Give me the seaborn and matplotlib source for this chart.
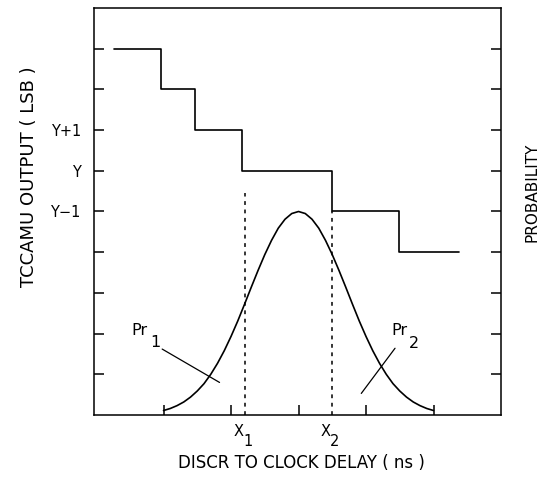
import matplotlib
matplotlib.use("Agg")
import matplotlib.pyplot as plt
import numpy as np
import pandas as pd
import seaborn as sns

# ---------------- data ----------------
# staircase: TCCAMU output vs discriminator-to-clock delay
step_edges = [0.27, 0.97, 1.47, 2.17, 3.49, 4.49, 5.38]
step_levels = [9, 8, 7, 6, 5, 4]

# probability curve (read point by point)
prob_x = [1.0, 1.1, 1.2, 1.3, 1.4, 1.5, 1.6, 1.7, 1.8, 1.9, 2.0,
          2.1, 2.2, 2.3, 2.4, 2.5, 2.6, 2.7, 2.8, 2.9, 3.0,
          3.1, 3.2, 3.3, 3.4, 3.5, 3.6, 3.7, 3.8, 3.9, 4.0,
          4.1, 4.2, 4.3, 4.4, 4.5, 4.6, 4.7, 4.8, 4.9, 5.0]
prob_y = [0.11, 0.16, 0.23, 0.32, 0.44, 0.59, 0.77, 1.00, 1.27, 1.58, 1.93,
          2.31, 2.72, 3.14, 3.55, 3.94, 4.29, 4.59, 4.81, 4.95, 5.00,
          4.95, 4.81, 4.59, 4.29, 3.94, 3.55, 3.14, 2.72, 2.31, 1.93,
          1.58, 1.27, 1.00, 0.77, 0.59, 0.44, 0.32, 0.23, 0.16, 0.11]

# threshold delays X1, X2 (dotted markers) and where they start
x_marks = [2.2, 3.49]
x_mark_tops = [5.45, 5.0]
x_mark_names = ["X", "X"]
x_mark_subs = ["1", "2"]

# y tick labels
ytick_pos = [1, 2, 3, 4, 5, 6, 7, 8, 9]
ytick_lab = ["", "", "", "", "Y\u22121", "Y", "Y+1", "", ""]
xtick_pos = [1, 2, 3, 4, 5]

# annotation leader lines
pr1_line_x = [0.98, 1.83]
pr1_line_y = [1.62, 0.80]
pr2_line_x = [4.43, 3.93]
pr2_line_y = [1.64, 0.53]

xlabel = "DISCR TO CLOCK DELAY ( ns )"
ylabel = "TCCAMU OUTPUT ( LSB )"
rlabel = "PROBABILITY"

# ---------------- style ----------------
sns.set_theme(style="white", rc={
    "axes.edgecolor": "black",
    "axes.linewidth": 1.1,
    "xtick.color": "black",
    "ytick.color": "black",
    "text.color": "black",
    "axes.labelcolor": "black",
})
plt.rcParams["font.family"] = ["DejaVu Sans"]

fig = plt.figure(figsize=(5.41, 4.78), dpi=100)
L, R, T, B = 94, 501, 8, 415
W, H = 541, 478
ax = fig.add_axes([L / W, 1 - B / H, (R - L) / W, (B - T) / H])

lw = 1.2
# staircase
step_df = pd.DataFrame({"x": step_edges, "y": step_levels + [step_levels[-1]]})
sns.lineplot(data=step_df, x="x", y="y", drawstyle="steps-post", color="black",
             lw=lw, ax=ax, sort=False, estimator=None)

# probability curve
prob_df = pd.DataFrame({"x": prob_x, "y": prob_y})
sns.lineplot(data=prob_df, x="x", y="y", color="black", lw=lw, ax=ax,
             sort=False, estimator=None)

# dotted X1, X2 markers
for xm, top in zip(x_marks, x_mark_tops):
    ax.plot([xm, xm], [0, top], color="black", lw=1.1, ls=(0, (2.5, 3.0)))

# leader lines
ax.plot(pr1_line_x, pr1_line_y, color="black", lw=0.9)
ax.plot(pr2_line_x, pr2_line_y, color="black", lw=0.9)

ax.set_xlim(-0.03, 6.0)
ax.set_ylim(0, 10)

ax.set_xticks(xtick_pos)
ax.set_xticklabels([""] * len(xtick_pos))
ax.set_yticks(ytick_pos)
ax.set_yticklabels(ytick_lab, fontsize=10.5)
ax.tick_params(axis="x", direction="in", length=7.5, width=1.1, bottom=True, top=False)
ax.tick_params(axis="y", direction="in", length=7.5, width=1.1, left=True, right=True,
               pad=9.5)

ax.set_xlabel(xlabel, fontsize=12)
ax.xaxis.set_label_coords((301.7 - L) / (R - L), (B - 453.5) / (B - T))
ax.set_ylabel(ylabel, fontsize=13)
ax.yaxis.set_label_coords((38 - L) / (R - L), (B - 176.7) / (B - T))

fig.text(531.5 / W, 1 - 192 / H, rlabel, rotation=90, ha="center", va="center",
         fontsize=11)

# Pr labels
fs_lab = 11.5
ax.text(0.53, 1.97, "Pr", fontsize=fs_lab, ha="left", va="baseline")
ax.text(0.80, 1.66, "1", fontsize=fs_lab, ha="left", va="baseline")
ax.text(4.38, 1.97, "Pr", fontsize=fs_lab, ha="left", va="baseline")
ax.text(4.64, 1.65, "2", fontsize=fs_lab, ha="left", va="baseline")

# X1, X2 labels under the axis
for xm, nm, sb in zip(x_marks, x_mark_names, x_mark_subs):
    ax.text(xm - 0.16, -0.51, nm, fontsize=10.5, ha="left", va="baseline")
    ax.text(xm - 0.02, -0.76, sb, fontsize=10.5, ha="left", va="baseline")

fig.savefig("out.png", dpi=100)
